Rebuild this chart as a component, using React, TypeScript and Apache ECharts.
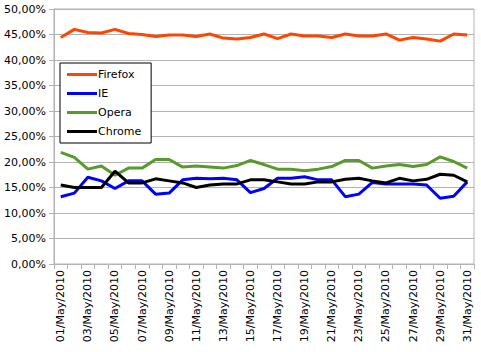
import React, { useEffect, useRef } from "react";
import * as echarts from "echarts";

const days: string[] = Array.from({ length: 31 }, (_, i) => `${String(i + 1).padStart(2, "0")}/May/2010`);

const firefox = [44.4, 46.0, 45.4, 45.3, 46.0, 45.2, 45.0, 44.6, 44.9, 44.9, 44.6, 45.1, 44.3, 44.1, 44.4, 45.1, 44.2, 45.1, 44.7, 44.7, 44.4, 45.1, 44.7, 44.7, 45.1, 43.9, 44.4, 44.1, 43.7, 45.1, 44.9];
const ie = [13.2, 13.9, 17.0, 16.3, 14.8, 16.3, 16.3, 13.7, 13.9, 16.5, 16.8, 16.7, 16.8, 16.5, 14.0, 14.8, 16.8, 16.8, 17.1, 16.5, 16.5, 13.2, 13.7, 16.0, 15.7, 15.7, 15.7, 15.5, 12.9, 13.3, 16.1];
const opera = [21.9, 20.9, 18.6, 19.2, 17.4, 18.8, 18.8, 20.5, 20.5, 19.0, 19.2, 19.0, 18.8, 19.3, 20.3, 19.5, 18.6, 18.6, 18.3, 18.6, 19.1, 20.3, 20.3, 18.8, 19.2, 19.5, 19.1, 19.5, 21.0, 20.1, 18.8];
const chrome = [15.5, 15.0, 15.0, 15.0, 18.2, 15.9, 15.9, 16.7, 16.3, 15.9, 15.0, 15.5, 15.7, 15.7, 16.5, 16.5, 16.1, 15.7, 15.7, 16.1, 16.1, 16.6, 16.8, 16.3, 15.9, 16.8, 16.3, 16.6, 17.6, 17.4, 16.1];

const seriesNames = ["Firefox", "IE", "Opera", "Chrome"];
const seriesData = [firefox, ie, opera, chrome];
const colors = ["#FF4500", "#0000FF", "#589A2B", "#000000"];

const FONT = "DejaVu Sans";

export default function App() {
  const ref = useRef<HTMLDivElement>(null);
  useEffect(() => {
    if (!ref.current) return;
    const chart = echarts.init(ref.current, undefined, { renderer: "svg" });
    chart.setOption({
      animation: false,
      backgroundColor: "#fff",
      grid: {
        left: 54,
        right: 7,
        top: 9,
        bottom: 88,
        show: true,
        borderColor: "#b3b3b3",
        borderWidth: 1,
      },
      legend: {
        orient: "vertical",
        left: 60,
        top: 63,
        width: 86,
        data: seriesNames,
        icon: "rect",
        itemWidth: 30,
        itemHeight: 3,
        itemGap: 8,
        padding: [6, 10, 6, 7],
        borderColor: "#000",
        borderWidth: 1,
        backgroundColor: "#fff",
        textStyle: { fontFamily: FONT, fontSize: 11, color: "#000", padding: [0, 0, 0, -4] },
      },
      xAxis: {
        type: "category",
        data: days,
        boundaryGap: true,
        axisLine: { lineStyle: { color: "#b3b3b3" } },
        axisTick: { show: true, interval: 0, length: 5, lineStyle: { color: "#b3b3b3" } },
        axisLabel: {
          interval: 1,
          rotate: 90,
          margin: 6,
          fontFamily: FONT,
          fontSize: 11,
          color: "#000",
        },
        splitLine: { show: false },
      },
      yAxis: {
        type: "value",
        min: 0,
        max: 50,
        interval: 5,
        axisLine: { show: true, lineStyle: { color: "#b3b3b3" } },
        axisTick: { show: true, length: 5, lineStyle: { color: "#b3b3b3" } },
        axisLabel: {
          margin: 8,
          fontFamily: FONT,
          fontSize: 11,
          color: "#000",
          formatter: (v: number) => v.toFixed(2).replace(".", ",") + "%",
        },
        splitLine: { show: true, lineStyle: { color: "#b3b3b3" } },
      },
      series: seriesNames.map((name, i) => ({
        name,
        type: "line",
        data: seriesData[i],
        symbol: "none",
        color: colors[i],
        lineStyle: { width: 3, color: colors[i] },
      })),
    });
    return () => chart.dispose();
  }, []);
  return <div ref={ref} style={{ width: 481, height: 352, position: "absolute", left: 0, top: 0 }} />;
}
